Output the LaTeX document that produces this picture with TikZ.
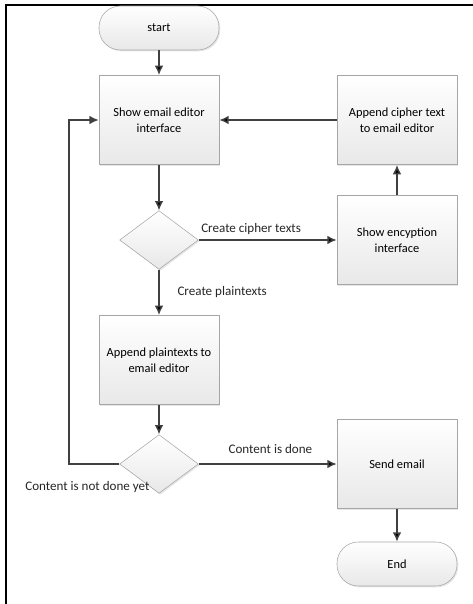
\documentclass[tikz,border=0pt]{standalone}
\usepackage{fontspec}
\setmainfont{Carlito}
\usepackage{tikz}
\usepackage{xcolor}
\usetikzlibrary{positioning,shapes.geometric,shadows,calc,arrows.meta}

\definecolor{boxline}{HTML}{A6A6A6}
\definecolor{arrowgray}{HTML}{404040}
\tikzset{
  process/.style={rectangle,draw=boxline,top color=white,bottom color=black!9,
    minimum width=90pt,minimum height=67pt,align=center,font=\fontsize{9.3}{12}\selectfont,
    drop shadow={opacity=0.2,shadow xshift=1pt,shadow yshift=-1pt}},
  terminal/.style={rectangle,rounded corners=16pt,draw=boxline,top color=white,bottom color=black!9,
    minimum width=90pt,minimum height=33pt,font=\fontsize{9.3}{12}\selectfont,
    drop shadow={opacity=0.2,shadow xshift=1pt,shadow yshift=-1pt}},
  decision/.style={diamond,aspect=1.34,draw=boxline,top color=white,bottom color=black!9,
    minimum width=59pt,minimum height=44pt,inner sep=0pt,
    drop shadow={opacity=0.2,shadow xshift=1pt,shadow yshift=-1pt}},
  flow/.style={-{Latex[length=7pt,width=6.5pt]},draw=arrowgray,line width=1.1pt},
  lbl/.style={font=\fontsize{9.8}{12}\selectfont,text=black!85}
}

\begin{document}
\begin{tikzpicture}[x=0.75pt,y=-0.75pt,on grid]
   \useasboundingbox (0,0) rectangle (473,604);
   \draw[line width=1.5pt] (6,604) -- (6,5) -- (473,5);

   \node[process] (show) at (159,120) {Show email editor\\interface};
   \node[terminal] (start) [above=69pt of show] {start};
   \node[process] (cipher) [right=178.5pt of show] {Append cipher text\\to email editor};
   \node[process] (encrypt) [below=90pt of cipher] {Show encyption\\interface};
   \node[decision] (dec1) [below=90pt of show] {};
   \node[process] (plain) [below=90pt of dec1] {Append plaintexts to\\email editor};
   \node[decision] (dec2) [below=78pt of plain] {};
   \node[process] (send) [right=178.5pt of dec2] {Send email};
   \node[terminal] (end) [below=75pt of send] {End};
   \node[lbl] (notdone) at ($(dec2.west)+(-32,23)$) {Content is not done yet};

   \path[flow]
    (start) edge (show)
    (show) edge (dec1)
    (dec1) edge node[lbl,above,pos=0.38] {Create cipher texts} (encrypt)
           edge node[lbl,right=10pt,anchor=west] {Create plaintexts} (plain)
    (encrypt) edge (cipher)
    (cipher) edge (show)
    (plain) edge (dec2)
    (dec2) edge node[lbl,above=4pt,pos=0.52] {Content is done} (send)
    (send) edge (end);
   \draw[flow] (dec2.west) -| (69,300) |- (show.west);
\end{tikzpicture}
\end{document}
